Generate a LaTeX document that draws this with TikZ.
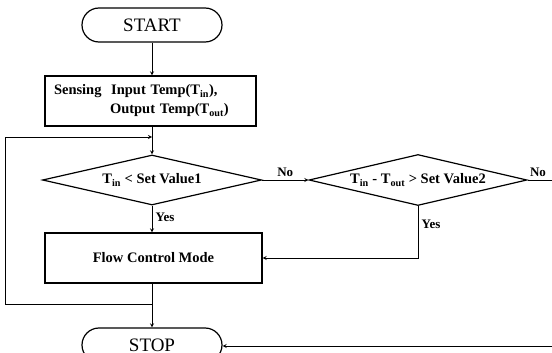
\documentclass[tikz,border=0pt]{standalone}
\usepackage{fontspec}
\setmainfont{Liberation Serif}
\usepackage{tikz}
\usetikzlibrary{shapes.geometric, arrows}

\begin{document}
\begin{tikzpicture}[x=1pt, y=1pt, >=stealth,
    term/.style={draw, line width=1.2pt, rounded corners=17pt, minimum width=140pt, minimum height=34pt, font=\fontsize{19}{21}\selectfont},
    proc/.style={draw, line width=1.2pt, minimum height=50pt, font=\bfseries\fontsize{14.5}{19}\selectfont},
    decide/.style={draw, diamond, line width=1.2pt, inner sep=0pt, shape aspect=4.4, font=\bfseries\fontsize{14.5}{17}\selectfont},
    lbl/.style={font=\bfseries\fontsize{13}{15}\selectfont},
    flow/.style={line width=0.8pt}]
    \useasboundingbox (0,0) rectangle (552,-353);

    \node[term] (start) at (152,-25) {START};
    \node[proc, minimum width=211pt, text width=193pt, inner xsep=9pt, align=left] (sense) at (150.5,-101)
        {Sensing~~Input Temp(T\textsubscript{in}),\\\hspace*{56pt}Output Temp(T\textsubscript{out})};
    \node[decide, minimum width=219pt, minimum height=50pt] (dec1) at (152,-180) {T\textsubscript{in} < Set Value1};
    \node[decide, minimum width=218pt, minimum height=51pt] (dec2) at (418,-180) {T\textsubscript{in} - T\textsubscript{out} > Set Value2};
    \node[proc, minimum width=217pt] (mode) at (153.5,-258) {Flow Control Mode};
    \node[term] (stop) at (152,-345) {STOP};

    \coordinate (join) at (152,-304);
    \coordinate (back) at (152,-137);
    \coordinate (edge) at (600,-180);

    \draw[flow,->] (start.south) -- (start.south |- sense.north);
    \draw[flow,->] (sense.south -| dec1.north) -- (dec1.north);
    \draw[flow,->] (dec1.east) -- node[lbl, above, pos=0.5] {No} (dec2.west);
    \draw[flow,->] (dec1.south) -- node[lbl, right, pos=0.45] {Yes} (dec1.south |- mode.north);
    \draw[flow,->] (dec2.south) -- node[lbl, right, pos=0.35] {Yes} (dec2.south |- mode.east) -- (mode.east);
    \draw[flow,->] (mode.south -| stop.north) -- (stop.north);
    \draw[flow,->] (join) -- (5,-304) -- (5,-137) -- (back);
    \draw[flow,->] (dec2.east) -- node[lbl, above right, pos=0, inner xsep=2pt] {No} (edge) -- (600,-346) -- (stop.east |- 0,-346);

\end{tikzpicture}
\end{document}
